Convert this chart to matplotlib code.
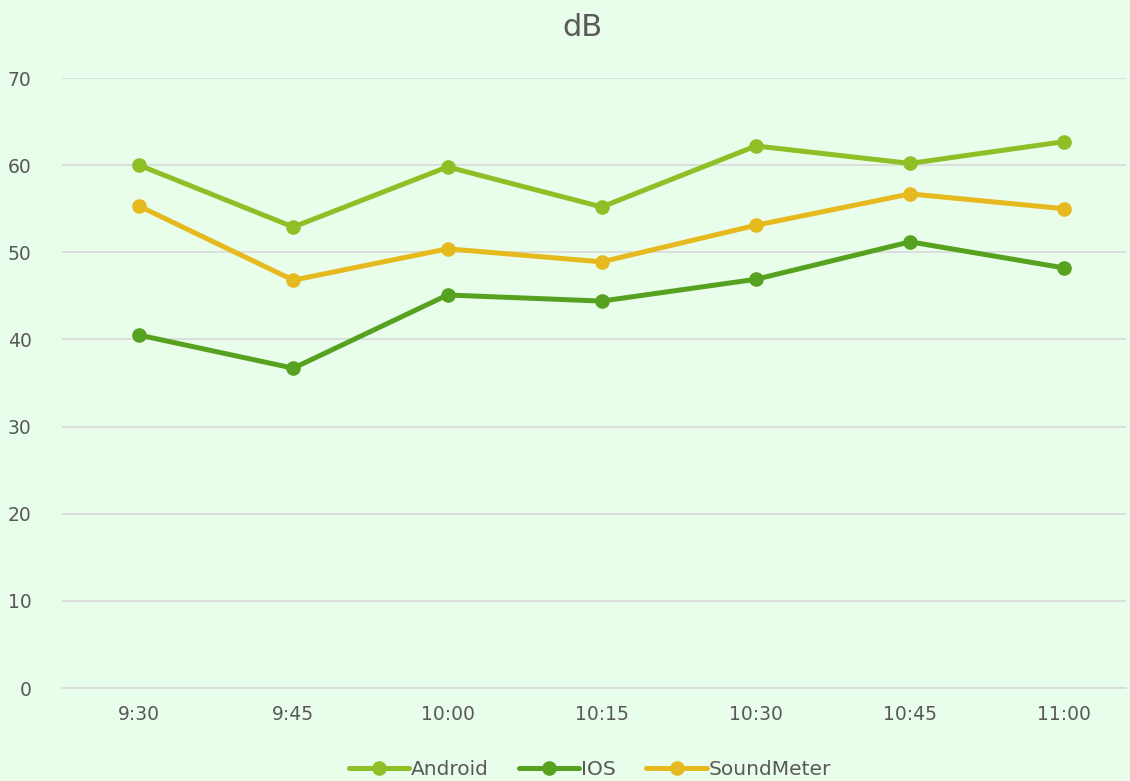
import matplotlib.pyplot as plt

times = ["9:30", "9:45", "10:00", "10:15", "10:30", "10:45", "11:00"]
android = [60.0, 52.9, 59.8, 55.2, 62.2, 60.2, 62.7]
ios = [40.5, 36.7, 45.1, 44.4, 46.9, 51.2, 48.2]
soundmeter = [55.3, 46.8, 50.4, 48.9, 53.1, 56.7, 55.0]

bg = "#E9FDEB"
text_color = "#595959"

fig = plt.figure(figsize=(11.3, 7.81), dpi=100, facecolor=bg)
ax = fig.add_axes([62 / 1130, 93 / 781, (1126 - 62) / 1130, (688 - 78) / 781])
ax.set_facecolor(bg)

x = range(len(times))
series = [("Android", android, "#8FBF26"), ("IOS", ios, "#56A220"), ("SoundMeter", soundmeter, "#E6B91E")]
for name, vals, col in series:
    ax.plot(x, vals, color=col, lw=3.6, marker="o", markersize=9.5, label=name, solid_capstyle="round")

ax.set_xlim(-0.5, 6.4)
ax.set_ylim(0, 70)
ax.set_yticks(range(0, 71, 10))
ax.set_xticks(list(x))
ax.set_xticklabels(times)
ax.grid(axis="y", color="#D9D9D9", lw=1.2)
ax.set_axisbelow(True)
for s in ["top", "right", "left"]:
    ax.spines[s].set_visible(False)
ax.spines["bottom"].set_color("#D9D9D9")
ax.spines["bottom"].set_linewidth(1.2)
ax.tick_params(length=0, colors=text_color, labelsize=13.5)
ax.tick_params(axis="x", pad=12)
ax.tick_params(axis="y", pad=22)

fig.text(0.515, 0.965, "dB", ha="center", va="center", fontsize=22, color=text_color)
fig.legend(loc="center", bbox_to_anchor=(0.522, 0.015), ncol=3, frameon=False,
           fontsize=14.5, labelcolor=text_color, handlelength=3, columnspacing=1.5, handletextpad=0.1)

fig.savefig("out.png", dpi=100, facecolor=bg)
